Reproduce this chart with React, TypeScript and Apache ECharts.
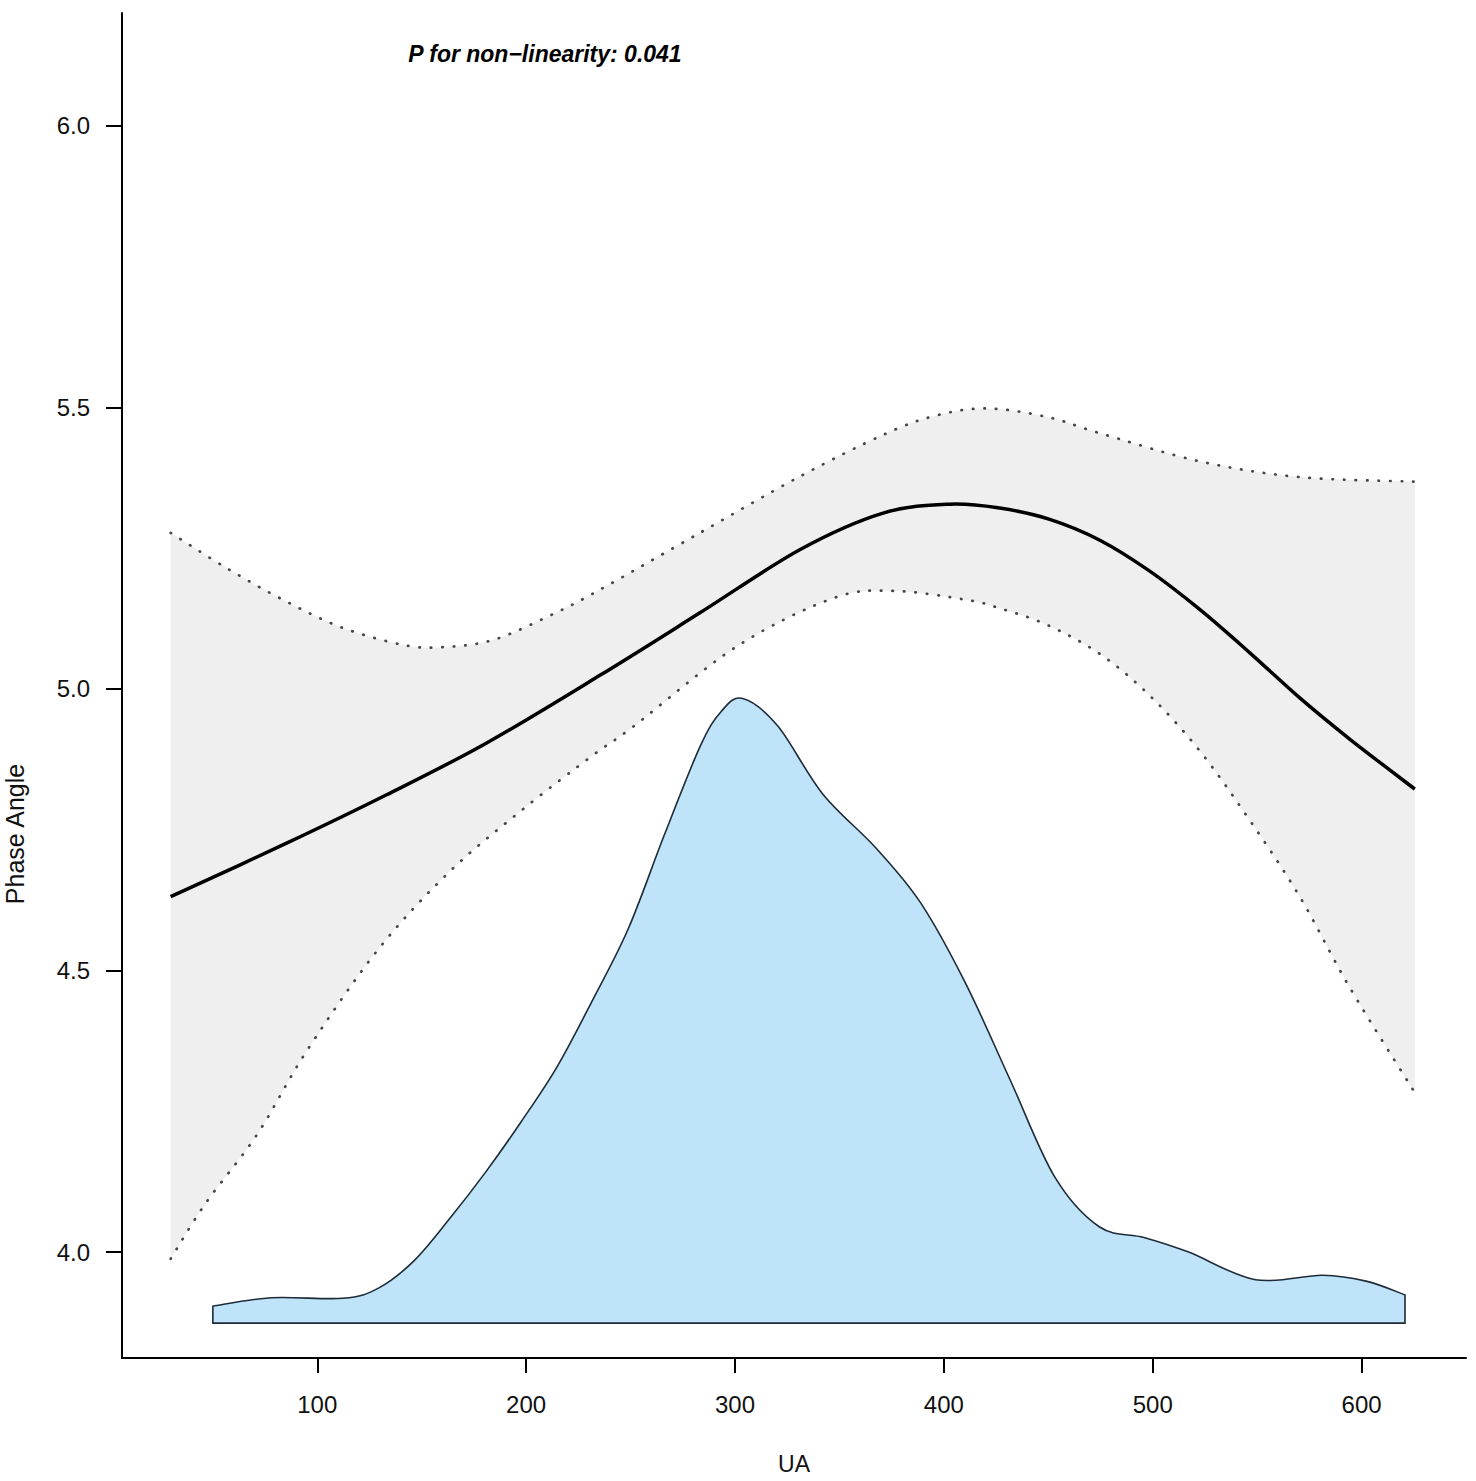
import React, { useEffect, useRef } from "react";
import * as echarts from "echarts";

// ---- axis ticks ----
const xTicks = [100, 200, 300, 400, 500, 600];
const yTicks = [4.0, 4.5, 5.0, 5.5, 6.0];

// ---- fitted curve (UA vs Phase Angle) ----
const fitX = [29.8, 85.3, 133.2, 181.1, 235.3, 283.2, 331, 370.9, 402.9, 426.8, 450.7, 474.7, 498.6, 522.5, 546.5, 570.4, 594.3, 625.5];
const fitY = [4.631, 4.726, 4.812, 4.904, 5.024, 5.135, 5.247, 5.312, 5.328, 5.321, 5.301, 5.264, 5.209, 5.141, 5.064, 4.984, 4.911, 4.822];

// ---- upper 95% CI ----
const upperX = [29.8, 56.6, 83.7, 111.7, 141.2, 159.8, 184.3, 213, 235.3, 283.2, 331, 370.9, 394.9, 420, 449.2, 474.7, 522.5, 570.4, 625.5];
const upperY = [5.277, 5.2145, 5.158, 5.109, 5.078, 5.074, 5.087, 5.133, 5.176, 5.277, 5.377, 5.451, 5.484, 5.498, 5.483, 5.454, 5.404, 5.376, 5.368];

// ---- lower 95% CI ----
const lowerX = [29.8, 46.4, 71.2, 95.1, 129.3, 163.5, 197.7, 231.9, 251.3, 300.7, 347, 375.7, 410.9, 426.8, 449.2, 474.7, 498.6, 522.5, 546.4, 570.4, 594.3, 625.5];
const lowerY = [3.988, 4.086, 4.209, 4.358, 4.538, 4.676, 4.784, 4.882, 4.933, 5.075, 5.161, 5.174, 5.158, 5.143, 5.114, 5.062, 4.988, 4.89, 4.767, 4.631, 4.47, 4.283];

// ---- UA distribution (density, drawn in Phase Angle units) ----
const densX = [50.0, 78.0, 112.3, 129.3, 146.4, 163.5, 180.6, 197.7, 214.8, 231.9, 249, 266.1, 283.2, 293.4, 303.7, 320.5, 341.9, 367.6, 388.9, 410.3, 431.7, 453, 474.4, 495.8, 517.2, 549.2, 581.3, 602.6, 620.8];
const densY = [3.904, 3.919, 3.918, 3.936, 3.985, 4.06, 4.142, 4.232, 4.329, 4.448, 4.575, 4.74, 4.897, 4.96, 4.983, 4.934, 4.814, 4.717, 4.62, 4.478, 4.306, 4.134, 4.045, 4.026, 4.0, 3.951, 3.959, 3.948, 3.924];
const densBase = 3.874;

const annotation = "P for non\u2212linearity: 0.041";

const pairs = (xs: number[], ys: number[]) => xs.map((x, i) => [x, ys[i]]);

// Catmull-Rom through pixel points -> cubic bezier segments (assumes current point = pts[0])
function curveThrough(pts: number[][]): string {
  let d = "";
  for (let i = 0; i < pts.length - 1; i++) {
    const p0 = pts[i - 1] || pts[i];
    const p1 = pts[i];
    const p2 = pts[i + 1];
    const p3 = pts[i + 2] || p2;
    const c1x = p1[0] + (p2[0] - p0[0]) / 6;
    const c1y = p1[1] + (p2[1] - p0[1]) / 6;
    const c2x = p2[0] - (p3[0] - p1[0]) / 6;
    const c2y = p2[1] - (p3[1] - p1[1]) / 6;
    d += ` C ${c1x} ${c1y} ${c2x} ${c2y} ${p2[0]} ${p2[1]}`;
  }
  return d;
}
const mv = (p: number[]) => `M ${p[0]} ${p[1]}`;
const ln = (p: number[]) => ` L ${p[0]} ${p[1]}`;

export default function App() {
  const ref = useRef<HTMLDivElement>(null);

  useEffect(() => {
    if (!ref.current) return;
    const chart = echarts.init(ref.current, null, { renderer: "svg" });
    const font = "'Liberation Sans', Arial, Helvetica, sans-serif";

    const fit = pairs(fitX, fitY);
    const upper = pairs(upperX, upperY);
    const lower = pairs(lowerX, lowerY);
    const dens = pairs(densX, densY);
    const last = densX.length - 1;

    const dottedStyle = {
      fill: "none",
      stroke: "#464646",
      lineWidth: 2.7,
      lineDash: [0.5, 11],
      lineCap: "round",
    };

    chart.setOption({
      animation: false,
      backgroundColor: "#ffffff",
      textStyle: { fontFamily: font },
      grid: { left: 122, right: 10, top: 13, bottom: 123, containLabel: false },
      xAxis: {
        type: "value",
        min: 6.5,
        max: 650,
        name: "UA",
        nameLocation: "middle",
        nameGap: 94,
        nameTextStyle: { fontSize: 23, color: "#111", fontFamily: font },
        axisLine: { onZero: false, lineStyle: { color: "#000", width: 2 } },
        axisTick: { show: true, length: 15, lineStyle: { color: "#000", width: 2 }, customValues: xTicks },
        axisLabel: { customValues: xTicks, margin: 34, fontSize: 24, color: "#111", fontFamily: font },
        splitLine: { show: false },
      },
      yAxis: {
        type: "value",
        min: 3.812,
        max: 6.2,
        axisLine: { show: true, onZero: false, lineStyle: { color: "#000", width: 2 } },
        axisTick: { show: true, length: 16, lineStyle: { color: "#000", width: 2 }, customValues: yTicks },
        axisLabel: {
          customValues: yTicks,
          margin: 32,
          fontSize: 24,
          color: "#111",
          fontFamily: font,
          formatter: (v: number) => v.toFixed(1),
        },
        splitLine: { show: false },
      },
      graphic: [
        {
          type: "text",
          x: 545,
          y: 54,
          silent: true,
          style: {
            text: annotation,
            fontSize: 23,
            fontWeight: "bold",
            fontStyle: "italic",
            fontFamily: font,
            fill: "#000",
            align: "center",
            verticalAlign: "middle",
          },
        },
        {
          type: "text",
          x: 15,
          y: 834,
          rotation: Math.PI / 2,
          silent: true,
          style: {
            text: "Phase Angle",
            fontSize: 25,
            fontFamily: font,
            fill: "#111",
            align: "center",
            verticalAlign: "middle",
          },
        },
      ],
      series: [
        {
          type: "custom",
          name: "95% CI",
          z: 1,
          silent: true,
          data: [upper[0]],
          renderItem: (_p: any, api: any) => {
            const up = upper.map((p) => api.coord(p));
            const lo = lower.map((p) => api.coord(p));
            const loRev = lo.slice().reverse();
            const band = mv(up[0]) + curveThrough(up) + ln(loRev[0]) + curveThrough(loRev) + " Z";
            return {
              type: "path",
              shape: { pathData: band },
              style: { fill: "#efefef", stroke: "none" },
            };
          },
        },
        {
          type: "custom",
          name: "UA density",
          z: 2,
          silent: true,
          data: [dens[0]],
          renderItem: (_p: any, api: any) => {
            const top = dens.map((p) => api.coord(p));
            const bl = api.coord([densX[0], densBase]);
            const br = api.coord([densX[last], densBase]);
            const d = mv(bl) + ln(top[0]) + curveThrough(top) + ln(br) + " Z";
            return {
              type: "path",
              shape: { pathData: d },
              style: { fill: "#bfe3f9", stroke: "#1e2b38", lineWidth: 1.6, lineJoin: "miter" },
            };
          },
        },
        {
          type: "custom",
          name: "CI bounds",
          z: 4,
          silent: true,
          data: [upper[0]],
          renderItem: (_p: any, api: any) => {
            const up = upper.map((p) => api.coord(p));
            const lo = lower.map((p) => api.coord(p));
            return {
              type: "group",
              children: [
                { type: "path", shape: { pathData: mv(up[0]) + curveThrough(up) }, style: dottedStyle },
                { type: "path", shape: { pathData: mv(lo[0]) + curveThrough(lo) }, style: dottedStyle },
              ],
            };
          },
        },
        {
          type: "custom",
          name: "fit",
          z: 5,
          silent: true,
          data: [fit[0]],
          renderItem: (_p: any, api: any) => {
            const f = fit.map((p) => api.coord(p));
            return {
              type: "path",
              shape: { pathData: mv(f[0]) + curveThrough(f) },
              style: { fill: "none", stroke: "#000", lineWidth: 3.5, lineCap: "butt" },
            };
          },
        },
      ],
    });

    return () => chart.dispose();
  }, []);

  return (
    <div
      ref={ref}
      style={{ position: "absolute", left: 0, top: 0, width: 1476, height: 1481 }}
    />
  );
}
